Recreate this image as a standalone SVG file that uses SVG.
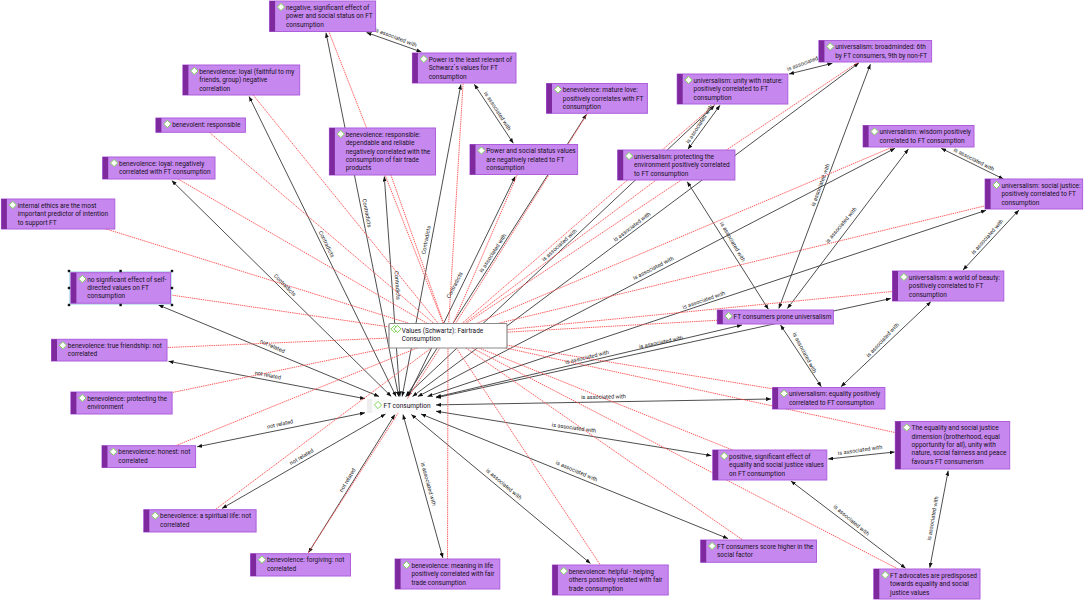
<svg xmlns="http://www.w3.org/2000/svg" width="1084" height="600" viewBox="0 0 1084 600">
<style>
text{font-family:Roboto,"Noto Sans","DejaVu Sans",sans-serif}
.k line{stroke:#3a3a3a;stroke-width:.9;marker-start:url(#ah);marker-end:url(#ah)}
.r line{stroke:#ff5252;stroke-width:.95;stroke-dasharray:1.4 .8}
.lb{font-size:5.6px;fill:#222;text-anchor:middle}
.b{fill:#c688ee;stroke:#ad5fdc;stroke-width:1}
.s{fill:#7e2a9e}
.t{font-size:6.5px;fill:#16101c}
.h{fill:#111}
</style>
<defs>
<marker id="ah" viewBox="0 0 5 4" refX="5" refY="2" markerWidth="5" markerHeight="4" markerUnits="userSpaceOnUse" orient="auto-start-reverse"><path d="M0 0L5 2L0 4Z" fill="#111"/></marker>
<path id="dm" d="M0-3.6L3.6 0L0 3.6L-3.6 0Z" fill="#fff" stroke="#7fd65a" stroke-width="1"/>
</defs>
<rect width="1084" height="600" fill="#fff"/>
<g id="connectors">
<g class="k">
<line x1="398.7" y1="396.5" x2="326" y2="32.7"/>
<line x1="402.2" y1="396.5" x2="460.9" y2="84.5"/>
<line x1="396.1" y1="396.5" x2="249.1" y2="96.5"/>
<line x1="391.3" y1="396.5" x2="171.7" y2="180.5"/>
<line x1="399.9" y1="396.5" x2="384.3" y2="176.5"/>
<line x1="379.1" y1="396.5" x2="158.5" y2="305"/>
<line x1="365" y1="398.7" x2="168.5" y2="361.3"/>
<line x1="365" y1="412.7" x2="197.1" y2="446.8"/>
<line x1="385.5" y1="414" x2="222" y2="508.4"/>
<line x1="394.9" y1="414.5" x2="308.4" y2="552.8"/>
<line x1="403" y1="414.5" x2="442.9" y2="558"/>
<line x1="411.3" y1="414.5" x2="590.5" y2="563.5"/>
<line x1="421" y1="414" x2="728" y2="538.6"/>
<line x1="436" y1="411.2" x2="711.3" y2="455.6"/>
<line x1="436" y1="404.9" x2="771.1" y2="399"/>
<line x1="436" y1="397.1" x2="742" y2="325"/>
<line x1="436" y1="397.8" x2="890.8" y2="298.5"/>
<line x1="427.5" y1="396.5" x2="986" y2="210.3"/>
<line x1="417.8" y1="396.5" x2="895" y2="148.3"/>
<line x1="412.5" y1="396.5" x2="858.8" y2="63"/>
<line x1="405.5" y1="396.5" x2="714.5" y2="105.5"/>
<line x1="408" y1="396.5" x2="515.2" y2="176.5"/>
<line x1="406.2" y1="396.5" x2="586.5" y2="114.3"/>
<line x1="366.5" y1="32.5" x2="421.5" y2="52"/>
<line x1="474.3" y1="84.3" x2="513.3" y2="143.3"/>
<line x1="789" y1="74" x2="832.4" y2="63.3"/>
<line x1="720" y1="105.3" x2="687.9" y2="149.3"/>
<line x1="687.2" y1="181.7" x2="768.4" y2="309.3"/>
<line x1="870.4" y1="64.3" x2="778.8" y2="308.5"/>
<line x1="908.4" y1="149" x2="787.4" y2="308.5"/>
<line x1="941.2" y1="148.3" x2="1003.4" y2="179"/>
<line x1="1019" y1="210" x2="963" y2="270"/>
<line x1="930.9" y1="301.7" x2="841" y2="386.7"/>
<line x1="780.5" y1="325" x2="821.3" y2="386.7"/>
<line x1="828.2" y1="459" x2="894.6" y2="452"/>
<line x1="948.2" y1="470.7" x2="929.8" y2="567.7"/>
<line x1="790.9" y1="481" x2="905.6" y2="568.3"/>
</g>
<g class="r">
<line x1="448" y1="335.5" x2="322.7" y2="16"/>
<line x1="448" y1="335.5" x2="464" y2="68"/>
<line x1="448" y1="335.5" x2="241" y2="80"/>
<line x1="448" y1="335.5" x2="200.7" y2="125"/>
<line x1="448" y1="335.5" x2="382.5" y2="151.5"/>
<line x1="448" y1="335.5" x2="159" y2="168"/>
<line x1="448" y1="335.5" x2="58" y2="214"/>
<line x1="448" y1="335.5" x2="121" y2="287.7"/>
<line x1="448" y1="335.5" x2="523.8" y2="159.5"/>
<line x1="448" y1="335.5" x2="597" y2="98.4"/>
<line x1="448" y1="335.5" x2="732.5" y2="89"/>
<line x1="448" y1="335.5" x2="875" y2="51"/>
<line x1="448" y1="335.5" x2="676.3" y2="165"/>
<line x1="448" y1="335.5" x2="918.6" y2="136"/>
<line x1="448" y1="335.5" x2="1034" y2="194"/>
<line x1="448" y1="335.5" x2="948" y2="286"/>
<line x1="448" y1="335.5" x2="775.3" y2="317"/>
<line x1="448" y1="335.5" x2="828.7" y2="398"/>
<line x1="448" y1="335.5" x2="952.5" y2="445"/>
<line x1="448" y1="335.5" x2="769.8" y2="465"/>
<line x1="448" y1="335.5" x2="758.6" y2="551"/>
<line x1="448" y1="335.5" x2="610.3" y2="580"/>
<line x1="448" y1="335.5" x2="926.9" y2="584"/>
<line x1="448" y1="335.5" x2="447.5" y2="574"/>
<line x1="448" y1="335.5" x2="300.5" y2="565"/>
<line x1="448" y1="335.5" x2="200" y2="521"/>
<line x1="448" y1="335.5" x2="148.8" y2="456.6"/>
<line x1="448" y1="335.5" x2="121.5" y2="403"/>
<line x1="448" y1="335.5" x2="109.2" y2="350"/>
</g>
<g id="edge-labels" class="lb">
<text transform="translate(367 213) rotate(79)" y="2">Contradicts</text>
<text transform="translate(326.7 244) rotate(64)" y="2">Contradicts</text>
<text transform="translate(285 285) rotate(45)" y="2">Contradicts</text>
<text transform="translate(397.5 285.5) rotate(86)" y="2">Contradicts</text>
<text transform="translate(426 240) rotate(-79)" y="2">Contradicts</text>
<text transform="translate(454.5 285) rotate(-63)" y="2">Contradicts</text>
<text transform="translate(492.6 253) rotate(-57)" y="2">is associated with</text>
<text transform="translate(272.4 346) rotate(24)" y="2">not related</text>
<text transform="translate(267.9 375) rotate(11)" y="2">not related</text>
<text transform="translate(280 424) rotate(-12)" y="2">not related</text>
<text transform="translate(301.4 456.7) rotate(-31)" y="2">not related</text>
<text transform="translate(347.4 480) rotate(-59)" y="2">not related</text>
<text transform="translate(428.6 484) rotate(75)" y="2">is associated with</text>
<text transform="translate(504 484) rotate(40)" y="2">is associated with</text>
<text transform="translate(576.6 471) rotate(23)" y="2">is associated with</text>
<text transform="translate(574 427.7) rotate(8)" y="2">is associated with</text>
<text transform="translate(603.5 396.7) rotate(-1)" y="2">is associated with</text>
<text transform="translate(587 357) rotate(-13)" y="2">is associated with</text>
<text transform="translate(661 342) rotate(-12)" y="2">is associated with</text>
<text transform="translate(703.7 300) rotate(-19)" y="2">is associated with</text>
<text transform="translate(653.3 268) rotate(-27)" y="2">is associated with</text>
<text transform="translate(631.9 226.7) rotate(-37)" y="2">is associated with</text>
<text transform="translate(559.3 245) rotate(-42)" y="2">is associated with</text>
<text transform="translate(395.8 37.3) rotate(21)" y="2">is associated with</text>
<text transform="translate(497.7 111) rotate(57)" y="2">is associated with</text>
<text transform="translate(808 61.5) rotate(-20)" y="2">is associated with</text>
<text transform="translate(699.3 124) rotate(-57)" y="2">is associated with</text>
<text transform="translate(732.8 241.7) rotate(60)" y="2">is associated with</text>
<text transform="translate(820.3 185) rotate(-70)" y="2">is associated with</text>
<text transform="translate(841 225) rotate(-50)" y="2">is associated with</text>
<text transform="translate(974 159.3) rotate(27)" y="2">is associated with</text>
<text transform="translate(987.2 236.7) rotate(-48)" y="2">is associated with</text>
<text transform="translate(882.5 340) rotate(-47)" y="2">is associated with</text>
<text transform="translate(804.7 352.7) rotate(62)" y="2">is associated with</text>
<text transform="translate(860 450) rotate(-8)" y="2">is associated with</text>
<text transform="translate(932.6 518.3) rotate(-80)" y="2">is associated with</text>
<text transform="translate(851.4 520) rotate(40)" y="2">is associated with</text>
</g>
</g>
<g id="ft-consumption"><rect x="367" y="399" width="67" height="14" fill="#fbfbfb"/><rect x="367" y="399" width="5" height="14" fill="#eeeeee"/><use href="#dm" x="378" y="405"/><text class="t" x="383.6" y="408">FT consumption</text></g>
<g id="values"><rect x="389" y="323.5" width="118" height="24.5" rx="1" fill="#fff" stroke="#8a8a8a" stroke-width="1.2"/><use href="#dm" x="394.5" y="329"/><use href="#dm" x="397.5" y="329"/><text class="t" x="401.7" y="332.5">Values (Schwartz): Fairtrade<tspan x="401.7" dy="8.5">Consumption</tspan></text></g>
<g id="n-negative"><rect class="b" x="269.6" y="1" width="106" height="30.5"/><rect class="s" x="269.6" y="1" width="5.5" height="30.5"/><use href="#dm" x="281" y="7"/><text class="t" x="285.9" y="9.7">negative, significant effect of<tspan x="285.9" dy="8.4">power and social status on FT</tspan><tspan x="285.9" dy="8.4">consumption</tspan></text></g>
<g id="n-power-least"><rect class="b" x="412.4" y="53" width="103.6" height="30"/><rect class="s" x="412.4" y="53" width="5.5" height="30"/><use href="#dm" x="423.8" y="59"/><text class="t" x="428.7" y="61.7">Power is the least relevant of<tspan x="428.7" dy="8.4">Schwarz´s values for FT</tspan><tspan x="428.7" dy="8.4">consumption</tspan></text></g>
<g id="n-loyal-faithful"><rect class="b" x="182.9" y="65" width="116.8" height="30"/><rect class="s" x="182.9" y="65" width="5.5" height="30"/><use href="#dm" x="194.3" y="71"/><text class="t" x="199.2" y="73.7">benevolence: loyal (faithful to my<tspan x="199.2" dy="8.4">friends, group) negative</tspan><tspan x="199.2" dy="8.4">correlation</tspan></text></g>
<g id="n-benevolent-responsible"><rect class="b" x="155.9" y="118" width="89.5" height="14.3"/><rect class="s" x="155.9" y="118" width="5.5" height="14.3"/><use href="#dm" x="167.3" y="124"/><text class="t" x="172.2" y="126.7">benevolent: responsible</text></g>
<g id="n-responsible"><rect class="b" x="329.4" y="128" width="106.1" height="47"/><rect class="s" x="329.4" y="128" width="5.5" height="47"/><use href="#dm" x="340.8" y="134"/><text class="t" x="345.7" y="136.7">benevolence: responsible:<tspan x="345.7" dy="8.4">dependable and reliable</tspan><tspan x="345.7" dy="8.4">negatively correlated with the</tspan><tspan x="345.7" dy="8.4">consumption of fair trade</tspan><tspan x="345.7" dy="8.4">products</tspan></text></g>
<g id="n-loyal-negative"><rect class="b" x="102.7" y="157" width="112.3" height="22"/><rect class="s" x="102.7" y="157" width="5.5" height="22"/><use href="#dm" x="114.1" y="163"/><text class="t" x="119" y="165.7">benevolence: loyal: negatively<tspan x="119" dy="8.4">correlated with FT consumption</tspan></text></g>
<g id="n-internal"><rect class="b" x="1.4" y="199" width="113.4" height="30"/><rect class="s" x="1.4" y="199" width="5.5" height="30"/><use href="#dm" x="12.8" y="205"/><text class="t" x="17.7" y="207.7">internal ethics are the most<tspan x="17.7" dy="8.4">important predictor of intention</tspan><tspan x="17.7" dy="8.4">to support FT</tspan></text></g>
<g id="n-no-significant"><rect x="69" y="271" width="103" height="34" fill="#c4e4ee"/><rect class="b" x="70.9" y="272.7" width="99.6" height="30.5"/><rect class="s" x="70.9" y="272.7" width="5.5" height="30.5"/><use href="#dm" x="82.3" y="279"/><text class="t" x="87.2" y="281.5">no significant effect of self-<tspan x="87.2" dy="8.4">directed values on FT</tspan><tspan x="87.2" dy="8.4">consumption</tspan></text><rect class="h" x="67.8" y="269.8" width="2.4" height="2.4"/><rect class="h" x="119.4" y="269.8" width="2.4" height="2.4"/><rect class="h" x="170.8" y="269.8" width="2.4" height="2.4"/><rect class="h" x="67.8" y="286.8" width="2.4" height="2.4"/><rect class="h" x="170.8" y="286.8" width="2.4" height="2.4"/><rect class="h" x="67.8" y="303.8" width="2.4" height="2.4"/><rect class="h" x="119.4" y="303.8" width="2.4" height="2.4"/><rect class="h" x="170.8" y="303.8" width="2.4" height="2.4"/></g>
<g id="n-power-social"><rect class="b" x="470" y="144.5" width="107.6" height="30"/><rect class="s" x="470" y="144.5" width="5.5" height="30"/><use href="#dm" x="481.4" y="150.5"/><text class="t" x="486.3" y="153.2">Power and social status values<tspan x="486.3" dy="8.4">are negatively related to FT</tspan><tspan x="486.3" dy="8.4">consumption</tspan></text></g>
<g id="n-mature-love"><rect class="b" x="546.5" y="83.5" width="100.9" height="29.8"/><rect class="s" x="546.5" y="83.5" width="5.5" height="29.8"/><use href="#dm" x="557.9" y="89.5"/><text class="t" x="562.8" y="92.2">benevolence: mature love:<tspan x="562.8" dy="8.4">positively correlates with FT</tspan><tspan x="562.8" dy="8.4">consumption</tspan></text></g>
<g id="n-unity"><rect class="b" x="677.2" y="74" width="110.6" height="30"/><rect class="s" x="677.2" y="74" width="5.5" height="30"/><use href="#dm" x="688.6" y="80"/><text class="t" x="693.5" y="82.7">universalism: unity with nature:<tspan x="693.5" dy="8.4">positively correlated to FT</tspan><tspan x="693.5" dy="8.4">consumption</tspan></text></g>
<g id="n-broadminded"><rect class="b" x="818.9" y="40.5" width="112.7" height="21.5"/><rect class="s" x="818.9" y="40.5" width="5.5" height="21.5"/><use href="#dm" x="830.3" y="46.5"/><text class="t" x="835.2" y="49.2">universalism: broadminded: 6th<tspan x="835.2" dy="8.4">by FT consumers, 9th by non-FT</tspan></text></g>
<g id="n-protecting-universal"><rect class="b" x="617.7" y="150" width="117.2" height="30"/><rect class="s" x="617.7" y="150" width="5.5" height="30"/><use href="#dm" x="629.1" y="156"/><text class="t" x="634" y="158.7">universalism: protecting the<tspan x="634" dy="8.4">environment positively correlated</tspan><tspan x="634" dy="8.4">to FT consumption</tspan></text></g>
<g id="n-wisdom"><rect class="b" x="863.1" y="125.5" width="110.9" height="21.5"/><rect class="s" x="863.1" y="125.5" width="5.5" height="21.5"/><use href="#dm" x="874.5" y="131.5"/><text class="t" x="879.4" y="134.2">universalism: wisdom positively<tspan x="879.4" dy="8.4">correlated to FT consumption</tspan></text></g>
<g id="n-social-justice"><rect class="b" x="985.1" y="179" width="97.5" height="30"/><rect class="s" x="985.1" y="179" width="5.5" height="30"/><use href="#dm" x="996.5" y="185"/><text class="t" x="1001.4" y="187.7">universalism: social justice:<tspan x="1001.4" dy="8.4">positively correlated to FT</tspan><tspan x="1001.4" dy="8.4">consumption</tspan></text></g>
<g id="n-world-beauty"><rect class="b" x="892.5" y="271" width="111.3" height="30"/><rect class="s" x="892.5" y="271" width="5.5" height="30"/><use href="#dm" x="903.9" y="277"/><text class="t" x="908.8" y="279.7">universalism: a world of beauty:<tspan x="908.8" dy="8.4">positively correlated to FT</tspan><tspan x="908.8" dy="8.4">consumption</tspan></text></g>
<g id="n-prone"><rect class="b" x="717.3" y="310" width="116.1" height="14"/><rect class="s" x="717.3" y="310" width="5.5" height="14"/><use href="#dm" x="728.7" y="316"/><text class="t" x="733.6" y="318.7">FT consumers prone universalism</text></g>
<g id="n-equality"><rect class="b" x="772.6" y="387.5" width="112.3" height="21.5"/><rect class="s" x="772.6" y="387.5" width="5.5" height="21.5"/><use href="#dm" x="784" y="393.5"/><text class="t" x="788.9" y="396.2">universalism: equality positively<tspan x="788.9" dy="8.4">correlated to FT consumption</tspan></text></g>
<g id="n-equality-dimension"><rect class="b" x="895.3" y="421.5" width="114.4" height="47.5"/><rect class="s" x="895.3" y="421.5" width="5.5" height="47.5"/><use href="#dm" x="906.7" y="427.5"/><text class="t" x="911.6" y="430.2">The equality and social justice<tspan x="911.6" dy="8.4">dimension (brotherhood, equal</tspan><tspan x="911.6" dy="8.4">opportunity for all), unity with</tspan><tspan x="911.6" dy="8.4">nature, social fairness and peace</tspan><tspan x="911.6" dy="8.4">favours FT consumerism</tspan></text></g>
<g id="n-positive"><rect class="b" x="712.8" y="450" width="114" height="30"/><rect class="s" x="712.8" y="450" width="5.5" height="30"/><use href="#dm" x="724.2" y="456"/><text class="t" x="729.1" y="458.7">positive, significant effect of<tspan x="729.1" dy="8.4">equality and social justice values</tspan><tspan x="729.1" dy="8.4">on FT consumption</tspan></text></g>
<g id="n-score"><rect class="b" x="700.7" y="540" width="115.8" height="22.3"/><rect class="s" x="700.7" y="540" width="5.5" height="22.3"/><use href="#dm" x="712.1" y="546"/><text class="t" x="717" y="548.7">FT consumers score higher in the<tspan x="717" dy="8.4">social factor</tspan></text></g>
<g id="n-helpful"><rect class="b" x="552.4" y="565" width="115.8" height="30"/><rect class="s" x="552.4" y="565" width="5.5" height="30"/><use href="#dm" x="563.8" y="571"/><text class="t" x="568.7" y="573.7">benevolence: helpful - helping<tspan x="568.7" dy="8.4">others positively related with fair</tspan><tspan x="568.7" dy="8.4">trade consumption</tspan></text></g>
<g id="n-advocates"><rect class="b" x="873.8" y="569" width="106.2" height="30"/><rect class="s" x="873.8" y="569" width="5.5" height="30"/><use href="#dm" x="885.2" y="575"/><text class="t" x="890.1" y="577.7">FT advocates are predisposed<tspan x="890.1" dy="8.4">towards equality and social</tspan><tspan x="890.1" dy="8.4">justice values</tspan></text></g>
<g id="n-meaning"><rect class="b" x="395.1" y="559" width="104.7" height="30"/><rect class="s" x="395.1" y="559" width="5.5" height="30"/><use href="#dm" x="406.5" y="565"/><text class="t" x="411.4" y="567.7">benevolence: meaning in life<tspan x="411.4" dy="8.4">positively correlated with fair</tspan><tspan x="411.4" dy="8.4">trade consumption</tspan></text></g>
<g id="n-forgiving"><rect class="b" x="250.6" y="553.7" width="99.9" height="22.3"/><rect class="s" x="250.6" y="553.7" width="5.5" height="22.3"/><use href="#dm" x="262" y="559.7"/><text class="t" x="266.9" y="562.4">benevolence: forgiving: not<tspan x="266.9" dy="8.4">correlated</tspan></text></g>
<g id="n-spiritual"><rect class="b" x="143.8" y="509.7" width="112.3" height="22.3"/><rect class="s" x="143.8" y="509.7" width="5.5" height="22.3"/><use href="#dm" x="155.2" y="515.7"/><text class="t" x="160.1" y="518.4">benevolence: a spiritual life: not<tspan x="160.1" dy="8.4">correlated</tspan></text></g>
<g id="n-honest"><rect class="b" x="102" y="445.7" width="93.6" height="21.8"/><rect class="s" x="102" y="445.7" width="5.5" height="21.8"/><use href="#dm" x="113.4" y="451.7"/><text class="t" x="118.3" y="454.4">benevolence: honest: not<tspan x="118.3" dy="8.4">correlated</tspan></text></g>
<g id="n-protecting"><rect class="b" x="70.9" y="392" width="101.2" height="22"/><rect class="s" x="70.9" y="392" width="5.5" height="22"/><use href="#dm" x="82.3" y="398"/><text class="t" x="87.2" y="400.7">benevolence: protecting the<tspan x="87.2" dy="8.4">environment</tspan></text></g>
<g id="n-true-friendship"><rect class="b" x="51.5" y="339.3" width="115.5" height="21.7"/><rect class="s" x="51.5" y="339.3" width="5.5" height="21.7"/><use href="#dm" x="62.9" y="345.3"/><text class="t" x="67.8" y="348">benevolence: true friendship: not<tspan x="67.8" dy="8.4">correlated</tspan></text></g>
</svg>
